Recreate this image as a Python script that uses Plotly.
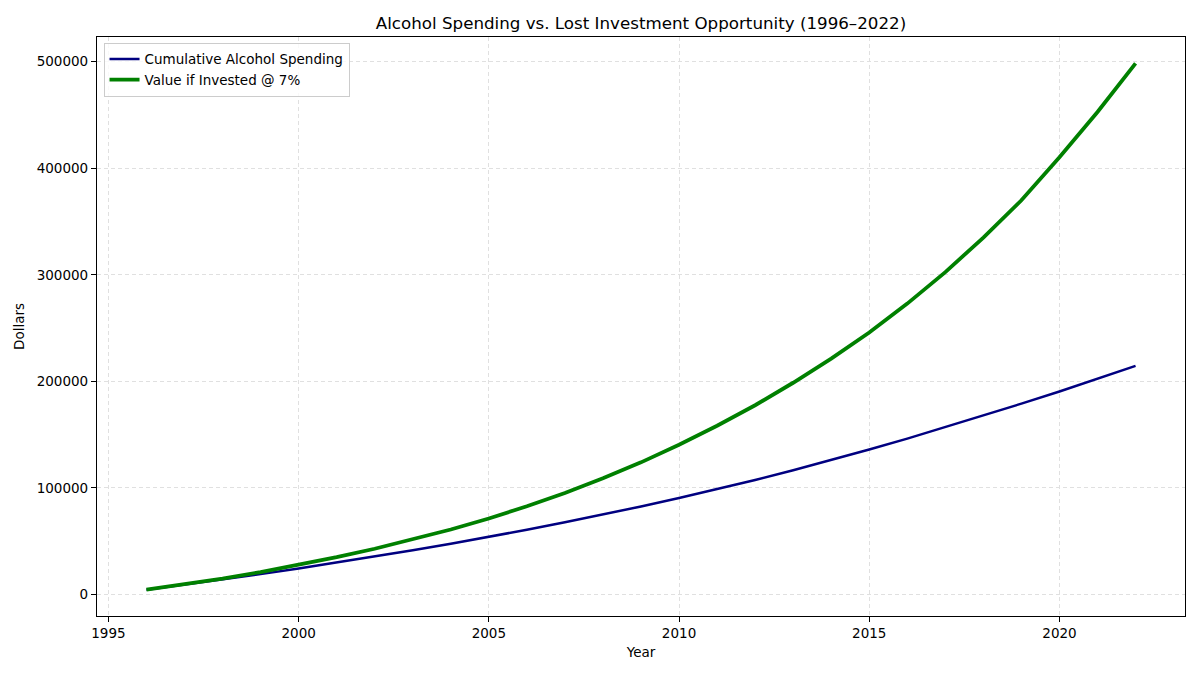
import plotly.graph_objects as go

# values
years = list(range(1996, 2023))

cumulative_spending = [
    4500, 9180, 14040, 19100, 24370, 29850, 35540, 41450, 47600, 54000,
    60700, 67700, 75000, 82600, 90500, 98800, 107500, 116600, 126100, 136000,
    146300, 157000, 168000, 179100, 190500, 202400, 214600,
]

invested_value = [
    4500, 9490, 14980, 21050, 27700, 35000, 42900, 51600, 61000, 71300,
    82800, 95300, 109000, 124000, 140600, 158400, 177600, 198700, 221400, 245900,
    273000, 302500, 335000, 370000, 410300, 452800, 498500,
]

font = "DejaVu Sans, Arial, sans-serif"

fig = go.Figure()

fig.add_trace(go.Scatter(
    x=years, y=cumulative_spending, mode="lines",
    name="Cumulative Alcohol Spending",
    line={"color": "#000080", "width": 2.5},
))
fig.add_trace(go.Scatter(
    x=years, y=invested_value, mode="lines",
    name="Value if Invested @ 7%",
    line={"color": "#008000", "width": 3.8},
))

axis_common = dict(
    showline=True, linecolor="black", linewidth=1.2, mirror=True,
    ticks="outside", ticklen=5, tickcolor="black",
    showgrid=True, gridcolor="#e0e0e0", griddash="4px,3px", gridwidth=1,
    zeroline=False, automargin=False,
    tickfont={"size": 13.5, "color": "black", "family": font},
)

fig.update_xaxes(
    range=[1994.7, 2023.3], dtick=5, tick0=1995,
    title={"text": "Year", "font": {"size": 13.5, "color": "black"}, "standoff": 7},
    **axis_common,
)
fig.update_yaxes(
    range=[-20200, 523200], dtick=100000, tickformat="d",
    title={"text": "Dollars", "font": {"size": 13.5, "color": "black"}, "standoff": 8},
    **axis_common,
)

# the page body adds an 8px margin, so the figure is a bit smaller to fit the window
fig.update_layout(
    width=1192, height=667,
    margin={"l": 89, "r": 15, "t": 29, "b": 59},
    paper_bgcolor="white", plot_bgcolor="white",
    font={"family": font, "color": "black"},
    title={
        "text": "Alcohol Spending vs. Lost Investment Opportunity (1996\u20132022)",
        "xref": "paper", "x": 0.5, "xanchor": "center",
        "y": 0.978, "yanchor": "middle",
        "font": {"size": 16.7, "color": "black"},
    },
    legend={
        "x": 0.006, "y": 0.99, "xanchor": "left", "yanchor": "top",
        "bgcolor": "rgba(255,255,255,0.8)", "bordercolor": "#cccccc", "borderwidth": 1,
        "font": {"size": 13.5},
        "tracegroupgap": 0,
    },
    showlegend=True,
)

fig.write_html("out.html")
